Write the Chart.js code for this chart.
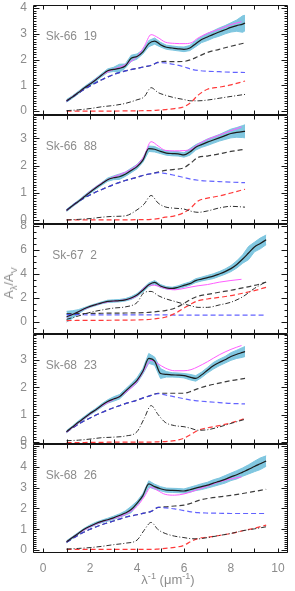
<!DOCTYPE html>
<html><head><meta charset="utf-8">
<script src="https://cdn.jsdelivr.net/npm/chart.js@4.4.1/dist/chart.umd.min.js"></script>
<style>
html,body{margin:0;padding:0;background:#fff;}
#wrap{position:relative;width:295px;height:591px;overflow:hidden;}
#wrap canvas{position:absolute;left:0;top:0;}
.ttl{position:absolute;font-family:"Liberation Sans",sans-serif;color:#8c8c8c;font-size:13px;white-space:nowrap;line-height:14px;}
.ttl sub,.ttl sup{font-size:70%;line-height:0;}
#ytitle{left:9px;top:283px;transform:translate(-50%,-50%) rotate(-90deg);}
#xtitle{left:168px;top:580px;transform:translate(-50%,-50%);}
</style></head><body>
<div id="wrap">
<canvas id="c0" width="295" height="591"></canvas>
<canvas id="c1" width="295" height="591"></canvas>
<canvas id="c2" width="295" height="591"></canvas>
<canvas id="c3" width="295" height="591"></canvas>
<canvas id="c4" width="295" height="591"></canvas>
<div class="ttl" id="ytitle">A<sub>λ</sub>/A<sub>V</sub></div>
<div class="ttl" id="xtitle">λ<sup>-1</sup> (μm<sup>-1</sup>)</div>
</div>
<script>
// ---------- x grids (λ^-1, µm^-1) ----------
const obsX8 = [1.0,1.25,1.5,1.75,2.0,2.25,2.5,2.75,3.0,3.25,3.5,3.75,4.0,4.25,4.5,4.75,5.0,5.25,5.5,5.75,6.0,6.25,6.5,6.75,7.0,7.25,7.5,7.75,8.0,8.25,8.5,8.6];
const obsX9 = [1.0,1.25,1.5,1.75,2.0,2.25,2.5,2.75,3.0,3.25,3.5,3.75,4.0,4.25,4.5,4.75,5.0,5.25,5.5,5.75,6.0,6.25,6.5,6.75,7.0,7.25,7.5,7.75,8.0,8.25,8.5,8.75,9.0,9.25,9.5];
const magX   = [1.0,1.5,2.0,2.5,3.0,3.5,4.0,4.3,4.6,4.9,5.2,5.6,6.0,6.3,6.6,7.0,7.5,8.0,8.45];
const compX8 = [1.0,1.5,2.0,2.5,3.0,3.5,4.0,4.3,4.6,4.9,5.2,5.6,6.0,6.3,6.6,7.0,7.5,8.0,8.6];
const compX9 = [1.0,1.5,2.0,2.5,3.0,3.5,4.0,4.3,4.6,4.9,5.2,5.6,6.0,6.3,6.6,7.0,7.5,8.0,8.5,9.0,9.5];

const starNames = ['Sk-66  19','Sk-66  88','Sk-67  2','Sk-68  23','Sk-68  26'];
const yMin = [-0.15,-0.15,-1.0,-0.07,-0.14];
const yMax = [4.12,3.86,8.17,3.94,5.10];
const yMajor = [1,1,2,1,1];
const yMinor = [0.1,0.1,0.5,0.1,0.1];
const xTickLabels = [0,2,4,6,8,10];

// ---------- Sk-66 19 ----------
const p1Obs = [0.40,0.55,0.72,0.90,1.05,1.22,1.40,1.57,1.62,1.66,1.75,2.05,2.12,2.30,2.62,2.72,2.58,2.48,2.45,2.42,2.40,2.45,2.62,2.78,2.88,2.98,3.07,3.16,3.25,3.32,3.38,3.42];
const p1Err = [0.05,0.05,0.05,0.05,0.06,0.06,0.06,0.07,0.08,0.16,0.08,0.12,0.10,0.08,0.12,0.12,0.09,0.08,0.08,0.08,0.09,0.10,0.12,0.12,0.14,0.14,0.16,0.16,0.18,0.22,0.32,0.30];
const p1Mag = [0.40,0.72,1.06,1.40,1.62,1.80,2.12,2.50,2.97,2.85,2.68,2.63,2.62,2.65,2.84,3.02,3.18,3.36,3.47];
const p1Tot = [0.38,0.70,0.98,1.22,1.42,1.56,1.66,1.72,1.77,1.90,1.93,1.92,1.93,2.00,2.12,2.28,2.40,2.52,2.65];
const p1Blue = [0.38,0.70,0.98,1.22,1.42,1.56,1.66,1.72,1.78,1.88,1.87,1.81,1.72,1.63,1.58,1.55,1.53,1.51,1.50];
const p1Red = [0.00,0.00,0.00,0.00,0.00,0.01,0.01,0.02,0.02,0.04,0.06,0.10,0.17,0.34,0.62,0.85,0.93,1.02,1.17];
const p1Bump = [0.02,0.05,0.10,0.17,0.22,0.30,0.44,0.55,0.91,0.72,0.62,0.52,0.45,0.40,0.40,0.43,0.50,0.57,0.65];

// ---------- Sk-66 88 ----------
const p2Obs = [0.35,0.52,0.68,0.85,1.02,1.18,1.33,1.48,1.55,1.59,1.68,1.82,1.96,2.20,2.62,2.60,2.52,2.46,2.44,2.43,2.39,2.50,2.67,2.77,2.86,2.94,3.02,3.10,3.18,3.22,3.25,3.26];
const p2Err = [0.04,0.04,0.04,0.05,0.05,0.05,0.05,0.06,0.07,0.10,0.08,0.08,0.08,0.08,0.10,0.10,0.08,0.08,0.08,0.08,0.08,0.12,0.10,0.10,0.12,0.12,0.12,0.14,0.16,0.18,0.22,0.24];
const p2Mag = [0.35,0.68,1.04,1.36,1.58,1.75,2.02,2.35,2.88,2.72,2.56,2.54,2.55,2.60,2.78,2.96,3.12,3.28,3.42];
const p2Tot = [0.36,0.68,0.92,1.12,1.30,1.45,1.57,1.65,1.70,1.76,1.82,1.86,1.92,2.10,2.30,2.35,2.43,2.52,2.60];
const p2Blue = [0.36,0.68,0.92,1.12,1.30,1.45,1.57,1.65,1.70,1.74,1.71,1.64,1.56,1.50,1.46,1.43,1.41,1.39,1.37];
const p2Red = [0.00,0.00,0.00,0.00,0.00,0.00,0.01,0.01,0.02,0.05,0.10,0.15,0.27,0.45,0.70,0.80,0.88,0.99,1.13];
const p2Bump = [0.00,0.02,0.05,0.10,0.13,0.15,0.37,0.58,0.90,0.62,0.48,0.43,0.40,0.32,0.28,0.33,0.44,0.50,0.47];

// ---------- Sk-67 2 ----------
const p3Obs = [0.44,0.62,0.85,1.10,1.30,1.45,1.60,1.72,1.75,1.78,1.85,2.00,2.25,2.65,3.10,3.30,3.00,2.85,2.80,2.90,3.05,3.20,3.45,3.58,3.70,3.82,4.00,4.20,4.45,4.80,5.25,5.75,6.25,6.55,6.85];
const p3Err = [0.45,0.32,0.18,0.10,0.08,0.08,0.08,0.10,0.10,0.10,0.10,0.12,0.12,0.15,0.15,0.15,0.12,0.10,0.10,0.12,0.14,0.14,0.16,0.16,0.18,0.20,0.20,0.22,0.25,0.30,0.35,0.55,0.40,0.45,0.40];
const p3Mag = [0.40,0.85,1.28,1.58,1.74,1.85,2.20,2.85,3.08,3.00,2.80,2.68,2.80,2.92,3.02,3.12,3.32,3.46,3.56];
const p3Tot = [0.70,0.70,0.72,0.73,0.74,0.75,0.76,0.78,0.82,0.88,0.95,1.15,1.55,1.90,2.15,2.30,2.48,2.65,2.85,3.05,3.32];
const p3Blue = [0.62,0.61,0.60,0.60,0.60,0.60,0.60,0.60,0.60,0.59,0.59,0.58,0.58,0.58,0.58,0.58,0.58,0.58,0.58,0.58,0.58];
const p3Red = [0.12,0.13,0.14,0.14,0.15,0.16,0.17,0.19,0.23,0.30,0.40,0.70,1.15,1.50,1.78,1.92,2.05,2.20,2.40,2.62,2.89];
const p3Bump = [0.22,0.50,0.80,1.00,1.16,1.26,1.62,2.45,2.55,2.20,1.95,1.72,1.50,1.35,1.22,1.22,1.42,1.65,2.10,2.80,3.36];

// ---------- Sk-68 23 ----------
const p4Obs = [0.38,0.55,0.72,0.88,1.04,1.18,1.34,1.48,1.57,1.65,1.85,2.05,2.25,2.58,3.05,2.95,2.50,2.47,2.45,2.44,2.42,2.37,2.32,2.45,2.62,2.78,2.90,3.00,3.12,3.20,3.27,3.30];
const p4Err = [0.04,0.04,0.05,0.05,0.05,0.05,0.06,0.06,0.08,0.08,0.08,0.08,0.10,0.10,0.18,0.15,0.18,0.10,0.08,0.08,0.08,0.10,0.10,0.10,0.10,0.12,0.12,0.12,0.14,0.15,0.18,0.18];
const p4Mag = [0.36,0.70,1.02,1.32,1.55,1.80,2.20,2.62,2.98,2.85,2.70,2.60,2.60,2.64,2.75,2.93,3.18,3.38,3.52];
const p4Tot = [0.37,0.65,0.88,1.08,1.25,1.40,1.53,1.62,1.70,1.78,1.78,1.78,1.78,1.85,1.95,2.05,2.15,2.24,2.32];
const p4Blue = [0.37,0.65,0.88,1.08,1.25,1.40,1.53,1.62,1.70,1.77,1.72,1.65,1.58,1.53,1.50,1.47,1.44,1.41,1.39];
const p4Red = [-0.02,-0.02,-0.01,-0.01,0.00,0.00,0.00,0.00,0.00,0.01,0.02,0.05,0.14,0.28,0.43,0.52,0.60,0.70,0.86];
const p4Bump = [0.05,0.07,0.11,0.16,0.18,0.22,0.38,0.85,1.33,1.00,0.72,0.60,0.56,0.50,0.43,0.45,0.55,0.68,0.83];

// ---------- Sk-68 26 ----------
const p5Obs = [0.40,0.60,0.80,1.00,1.15,1.28,1.38,1.46,1.55,1.66,1.78,1.95,2.25,2.62,3.18,3.05,2.95,2.88,2.87,2.86,2.84,2.90,2.98,3.05,3.12,3.22,3.30,3.40,3.52,3.62,3.75,3.88,4.02,4.15,4.28];
const p5Err = [0.05,0.05,0.05,0.05,0.06,0.06,0.06,0.07,0.08,0.08,0.10,0.15,0.10,0.10,0.15,0.12,0.10,0.10,0.10,0.10,0.10,0.12,0.12,0.14,0.14,0.16,0.16,0.18,0.18,0.20,0.20,0.22,0.25,0.28,0.25];
const p5Mag = [0.40,0.80,1.12,1.36,1.52,1.72,2.10,2.55,3.02,2.85,2.68,2.64,2.70,2.80,2.92,3.08,3.28,3.42,3.52];
const p5Tot = [0.38,0.72,1.00,1.22,1.40,1.58,1.70,1.78,1.86,2.05,2.08,2.12,2.16,2.25,2.38,2.48,2.56,2.63,2.72,2.82,2.92];
const p5Blue = [0.38,0.72,1.00,1.22,1.40,1.58,1.70,1.78,1.86,2.05,2.03,1.98,1.90,1.84,1.80,1.78,1.77,1.76,1.76,1.76,1.76];
const p5Red = [0.03,0.03,0.03,0.03,0.03,0.03,0.03,0.03,0.03,0.05,0.08,0.13,0.23,0.42,0.56,0.62,0.70,0.80,0.93,1.05,1.20];
const p5Bump = [0.05,0.08,0.12,0.18,0.26,0.33,0.48,0.95,1.33,0.98,0.80,0.67,0.60,0.55,0.54,0.60,0.70,0.80,0.93,1.02,1.12];

const panels = [
  {xo: obsX8, xc: compX8, obs: p1Obs, err: p1Err, mag: p1Mag, tot: p1Tot, blue: p1Blue, red: p1Red, bump: p1Bump},
  {xo: obsX8, xc: compX8, obs: p2Obs, err: p2Err, mag: p2Mag, tot: p2Tot, blue: p2Blue, red: p2Red, bump: p2Bump},
  {xo: obsX9, xc: compX9, obs: p3Obs, err: p3Err, mag: p3Mag, tot: p3Tot, blue: p3Blue, red: p3Red, bump: p3Bump},
  {xo: obsX8, xc: compX8, obs: p4Obs, err: p4Err, mag: p4Mag, tot: p4Tot, blue: p4Blue, red: p4Red, bump: p4Bump},
  {xo: obsX9, xc: compX9, obs: p5Obs, err: p5Err, mag: p5Mag, tot: p5Tot, blue: p5Blue, red: p5Red, bump: p5Bump}
];

// ---------- layout ----------
const W = 295, H = 591;
const panelTop = [5,115,224,334,444];
const panelBottom = [115,224,334,444,553];
const plotLeft = 33, plotRight = 288;
const X_MIN = -0.43, X_MAX = 10.43;
const CYAN = 'rgba(122,196,222,0.95)';
const labelColor = '#8c8c8c';
const tickFont = {family: '"Liberation Sans", sans-serif', size: 12};

function pts(xs, ys) { return xs.map((x, i) => ({x: x, y: ys[i]})); }

const framePlugin = {
  id: 'frame',
  afterDatasetsDraw(chart, args, o) {
    const ctx = chart.ctx, a = chart.chartArea;
    const xs = chart.scales.x, ys = chart.scales.y;
    const L = Math.round(a.left) + 0.5, R = Math.round(a.right) - 0.5;
    const T = Math.round(a.top) + 0.5, B = Math.round(a.bottom) - 0.5;
    ctx.save();
    ctx.strokeStyle = '#141414';
    ctx.lineWidth = 1;
    ctx.beginPath();
    ctx.rect(L, T, R - L, B - T);
    for (let v = Math.ceil(xs.min); v <= xs.max; v += 1) {
      const px = Math.round(xs.getPixelForValue(v)) + 0.5;
      ctx.moveTo(px, B); ctx.lineTo(px, B - 4);
      ctx.moveTo(px, T); ctx.lineTo(px, T + 4);
    }
    const n0 = Math.ceil(ys.min / o.minor - 1e-6), n1 = Math.floor(ys.max / o.minor + 1e-6);
    for (let n = n0; n <= n1; n++) {
      const v = n * o.minor;
      const r = v / o.major;
      const major = Math.abs(r - Math.round(r)) < 1e-6;
      const len = major ? 6 : 3;
      const py = Math.round(ys.getPixelForValue(v)) + 0.5;
      ctx.moveTo(L, py); ctx.lineTo(L + len, py);
      ctx.moveTo(R, py); ctx.lineTo(R - len, py);
    }
    ctx.stroke();
    ctx.fillStyle = labelColor;
    ctx.font = '12px "Liberation Sans", sans-serif';
    ctx.textAlign = 'right';
    ctx.textBaseline = 'middle';
    ctx.fillText(o.label, a.left + 64, a.top + 32);
    ctx.restore();
  }
};

function makePanel(i) {
  const p = panels[i];
  const last = (i === panels.length - 1);
  const line = {pointRadius: 0, fill: false, cubicInterpolationMode: 'monotone'};
  const datasets = [
    Object.assign({}, line, {data: pts(p.xo, p.obs), borderColor: '#1c1c1c', borderWidth: 1.2}),
    Object.assign({}, line, {data: pts(magX, p.mag), borderColor: '#ff5cff', borderWidth: 1}),
    Object.assign({}, line, {data: pts(p.xc, p.bump), borderColor: '#2e2e2e', borderWidth: 1, borderDash: [5,2,1,2]}),
    Object.assign({}, line, {data: pts(p.xc, p.red), borderColor: '#ff3a3a', borderWidth: 1.2, borderDash: [5,3]}),
    Object.assign({}, line, {data: pts(p.xc, p.blue), borderColor: 'rgba(60,60,255,0.8)', borderWidth: 1.2, borderDash: [5,3]}),
    Object.assign({}, line, {data: pts(p.xc, p.tot), borderColor: '#3c3c3c', borderWidth: 1.2, borderDash: [5,3]}),
    {data: pts(p.xo, p.obs.map((v, k) => v + p.err[k])), pointRadius: 0, borderColor: CYAN, borderWidth: 1, backgroundColor: CYAN, fill: '+1', tension: 0},
    {data: pts(p.xo, p.obs.map((v, k) => v - p.err[k])), pointRadius: 0, borderColor: CYAN, borderWidth: 1, fill: false, tension: 0}
  ];
  new Chart(document.getElementById('c' + i), {
    type: 'line',
    data: {datasets: datasets},
    options: {
      responsive: false,
      animation: false,
      events: [],
      layout: {padding: {left: 0, right: W - plotRight, top: panelTop[i], bottom: last ? 0 : H - panelBottom[i]}},
      plugins: {
        legend: {display: false},
        tooltip: {enabled: false},
        frame: {label: starNames[i], major: yMajor[i], minor: yMinor[i]}
      },
      scales: {
        x: {
          type: 'linear', min: X_MIN, max: X_MAX, display: last,
          grid: {display: false, drawTicks: false},
          border: {display: false},
          afterBuildTicks: s => { s.ticks = xTickLabels.map(v => ({value: v})); },
          ticks: {color: labelColor, font: tickFont, padding: 8, maxRotation: 0, autoSkip: false, includeBounds: false},
          afterFit: s => { s.height = last ? H - panelBottom[i] : 0; s.paddingLeft = 0; s.paddingRight = 0; s.paddingTop = 0; s.paddingBottom = 0; }
        },
        y: {
          type: 'linear', min: yMin[i], max: yMax[i],
          grid: {display: false, drawTicks: false},
          border: {display: false},
          ticks: {stepSize: yMajor[i], includeBounds: false, color: labelColor, font: tickFont, padding: 6},
          afterFit: s => { s.width = plotLeft; s.paddingTop = 0; s.paddingBottom = 0; s.paddingLeft = 0; s.paddingRight = 0; }
        }
      }
    },
    plugins: [framePlugin]
  });
}

for (let i = 0; i < panels.length; i++) makePanel(i);
</script>
</body></html>
